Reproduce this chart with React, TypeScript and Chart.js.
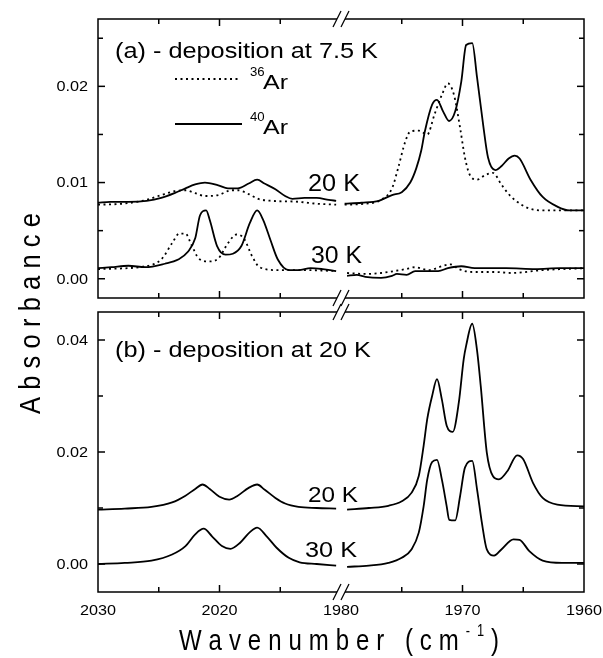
import React, { useEffect, useRef } from "react";
import { Chart, registerables } from "chart.js";

Chart.register(...registerables);

const FONT = '"Liberation Sans", Arial, Helvetica, sans-serif';

// ---------- Panel (a): deposition at 7.5 K ----------
// 20 K, 40Ar (solid)
const a20Ar40Wn = [2030, 2029, 2027.5, 2026, 2024.8, 2023.7, 2022.8, 2022, 2021.2, 2020.1, 2019.3, 2018.5, 2017.6, 2016.9, 2016.3, 2015.4, 2014.6, 2014, 2013, 2012, 2011, 2010.4,
  1979.7, 1978.3, 1976.9, 1975.8, 1975, 1974.3, 1973.8, 1973.4, 1973.1, 1972.5, 1972.1, 1971.6, 1971.1, 1970.6, 1970.1, 1969.7, 1969.2, 1968.8, 1968.3, 1967.9, 1967.3, 1966.8, 1966.2, 1965.7, 1965.3, 1964.4, 1963.4, 1962.2, 1961.2, 1960];
const a20Ar40Abs = [0.0079, 0.008, 0.008, 0.0081, 0.0084, 0.0089, 0.0094, 0.0098, 0.01, 0.0097, 0.0094, 0.0094, 0.0099, 0.0103, 0.0099, 0.0093, 0.0086, 0.0083, 0.0084, 0.0084, 0.0082, 0.0081,
  0.0078, 0.0079, 0.0081, 0.0087, 0.009, 0.01, 0.0115, 0.0133, 0.0153, 0.0181, 0.0186, 0.0174, 0.0164, 0.0174, 0.0205, 0.0243, 0.0245, 0.0209, 0.016, 0.0126, 0.0113, 0.0117, 0.0125, 0.0128, 0.0125, 0.0103, 0.0085, 0.0075, 0.0071, 0.0071];
// 20 K, 36Ar (dotted)
const a20Ar36Wn = [2030, 2028, 2026, 2024.8, 2023.7, 2022.8, 2022, 2021.2, 2020.1, 2019, 2018.5, 2017.6, 2016.8, 2015.7, 2013.5, 2012, 2010.4,
  1979.7, 1978, 1976.7, 1975.8, 1975.3, 1974.7, 1974.3, 1973.6, 1972.9, 1972.3, 1971.7, 1971.2, 1970.7, 1970.2, 1969.8, 1969.4, 1968.8, 1968.1, 1967.5, 1966.8, 1966.2, 1965.5, 1964.7, 1963.5, 1960];
const a20Ar36Abs = [0.0077, 0.0078, 0.0082, 0.0087, 0.0091, 0.0092, 0.0089, 0.0086, 0.0087, 0.0092, 0.0092, 0.0088, 0.0083, 0.0081, 0.008, 0.0078, 0.0077,
  0.0077, 0.0078, 0.0082, 0.0094, 0.0115, 0.0143, 0.0153, 0.0154, 0.015, 0.0171, 0.0191, 0.0203, 0.0191, 0.0157, 0.0126, 0.0108, 0.0103, 0.0108, 0.011, 0.0098, 0.0088, 0.008, 0.0074, 0.0071, 0.0071];
// 30 K, 40Ar (solid)
const a30Ar40Wn = [2030, 2028.9, 2027.5, 2026.1, 2024.5, 2023.4, 2022.6, 2022, 2021.6, 2021.1, 2020.8, 2020.2, 2019.5, 2018.9, 2018.2, 2017.5, 2016.9, 2016.4, 2015.8, 2015.2, 2014.3, 2013.5, 2012.5, 2011.5, 2010.4,
  1979.5, 1978.7, 1978, 1976.7, 1975.8, 1975.4, 1974.6, 1973.9, 1972, 1971.2, 1970.1, 1969, 1966.4, 1964, 1962, 1960];
const a30Ar40Abs = [0.0011, 0.0012, 0.00135, 0.0012, 0.00156, 0.002, 0.0028, 0.0042, 0.0066, 0.0071, 0.0061, 0.0034, 0.0025, 0.0026, 0.0034, 0.0058, 0.0071, 0.0061, 0.004, 0.002, 0.0009, 0.0009, 0.0011, 0.001, 0.0008,
  0.0003, 0.0004, 0.0002, 0.0001, 0.0003, 0.0005, 0.0004, 0.0008, 0.0008, 0.0011, 0.0013, 0.0011, 0.0011, 0.001, 0.0011, 0.0011];
// 30 K, 36Ar (dotted)
const a30Ar36Wn = [2030, 2026.1, 2024.8, 2023.9, 2023.3, 2022.8, 2022.3, 2021.7, 2020.9, 2020.1, 2019.3, 2018.6, 2018, 2017.3, 2016.7, 2015.2, 2013, 2010.4,
  1979.5, 1978, 1976.7, 1974.7, 1973.9, 1972.8, 1971.7, 1971, 1970.3, 1969.2, 1967.3, 1966, 1963.4, 1960];
const a30Ar36Abs = [0.001, 0.0013, 0.002, 0.0037, 0.0047, 0.0047, 0.0035, 0.0021, 0.0018, 0.0021, 0.0037, 0.0046, 0.0042, 0.0023, 0.0012, 0.0009, 0.0009, 0.0008,
  0.0006, 0.0005, 0.0006, 0.001, 0.0012, 0.0009, 0.0013, 0.0015, 0.001, 0.0007, 0.0007, 0.0006, 0.0009, 0.0011];

// ---------- Panel (b): deposition at 20 K ----------
const b20Wn = [2030, 2027.8, 2025.6, 2023.9, 2022.8, 2022, 2021.4, 2020.8, 2020, 2019.2, 2018.5, 2017.6, 2016.9, 2016.3, 2015.4, 2014.6, 2013.5, 2012, 2010.4,
  1979.5, 1977.7, 1976.1, 1975, 1974.2, 1973.6, 1973.2, 1972.9, 1972.5, 1972.1, 1971.7, 1971.3, 1970.8, 1970.3, 1969.9, 1969.7, 1969.2, 1968.8, 1968.5, 1968, 1967.5, 1967, 1966.3, 1965.5, 1965, 1964.2, 1963.4, 1962.2, 1960];
const b20Abs = [0.0097, 0.0099, 0.0102, 0.011, 0.0122, 0.0134, 0.0142, 0.0134, 0.012, 0.0115, 0.0122, 0.0136, 0.0142, 0.0133, 0.0118, 0.0108, 0.0102, 0.01, 0.0099,
  0.0097, 0.01, 0.0104, 0.0112, 0.0127, 0.0157, 0.0211, 0.0259, 0.03, 0.033, 0.0294, 0.0247, 0.0236, 0.0289, 0.0366, 0.039, 0.0429, 0.0381, 0.0318, 0.0199, 0.0157, 0.0151, 0.0166, 0.0194, 0.0187, 0.0145, 0.0118, 0.0106, 0.0103];
const b30Wn = [2030, 2027.8, 2025.6, 2023.9, 2022.8, 2022, 2021.3, 2020.6, 2019.8, 2019.1, 2018.3, 2017.5, 2016.9, 2016.1, 2015.3, 2014.3, 2013.4, 2012, 2010.4,
  1979.5, 1977.7, 1976.1, 1975, 1974.2, 1973.6, 1973.2, 1972.9, 1972.5, 1972.1, 1971.7, 1971.3, 1971.1, 1970.6, 1970.2, 1969.8, 1969.2, 1968.8, 1968.4, 1968, 1967.4, 1966.8, 1965.8, 1965.3, 1964.5, 1963.4, 1961.8, 1960];
const b30Abs = [0, 0.0002, 0.0006, 0.0017, 0.0032, 0.0053, 0.0063, 0.0049, 0.0032, 0.0027, 0.0038, 0.0057, 0.0065, 0.0049, 0.0029, 0.0011, 0.0003, 0, -0.0003,
  -0.0005, -0.0003, 0.0002, 0.0011, 0.0026, 0.0056, 0.0103, 0.0151, 0.0182, 0.0186, 0.0151, 0.0103, 0.0079, 0.0078, 0.0121, 0.0172, 0.0184, 0.0133, 0.0073, 0.0026, 0.0015, 0.0026, 0.0044, 0.0043, 0.0023, 0.0006, 0.0002, 0.0002];

// ---------- axes ----------
const xLabelTicks = [2030, 2020, 1980, 1970, 1960];
const xMajorInner = [2020, 1970];
const xMinorTicks = [2025, 2015, 1975, 1965];
const aYMajor = [0, 0.01, 0.02];
const aYMinor = [0.005, 0.015, 0.025];
const bYMajor = [0, 0.02, 0.04];
const bYMinor = [0.01, 0.03];
const aYRange = [-0.002, 0.027];
const bYRange = [-0.005, 0.045];

// broken axis: 2030..2010 | 1980..1960 (30 cm-1 removed)
const GAP = 30;
const BREAK_U = 1980;
const toU = (wn: number) => (wn > 1995 ? wn - GAP : wn);

function series(wn: number[], val: number[]) {
  const pts: { x: number; y: number | null }[] = [];
  let prevLeft: boolean | null = null;
  for (let i = 0; i < wn.length; i++) {
    const left = wn[i] > 1995;
    if (prevLeft === true && !left) pts.push({ x: BREAK_U, y: null });
    pts.push({ x: toU(wn[i]), y: val[i] });
    prevLeft = left;
  }
  return pts;
}

function drawScaled(ctx: CanvasRenderingContext2D, s: string, x: number, y: number, size: number, sx: number, align: "left" | "center" | "right", baseline: CanvasTextBaseline = "alphabetic") {
  ctx.save();
  ctx.font = `${size}px ${FONT}`;
  ctx.textBaseline = baseline;
  ctx.textAlign = "left";
  const w = ctx.measureText(s).width * sx;
  const x0 = align === "left" ? x : align === "center" ? x - w / 2 : x - w;
  ctx.translate(x0, y);
  ctx.scale(sx, 1);
  ctx.fillText(s, 0, 0);
  ctx.restore();
}

function drawFit(ctx: CanvasRenderingContext2D, s: string, x0: number, x1: number, baseline: number, size: number) {
  ctx.save();
  ctx.font = `${size}px ${FONT}`;
  ctx.textAlign = "left";
  ctx.textBaseline = "alphabetic";
  const w = ctx.measureText(s).width;
  ctx.translate(x0, baseline);
  ctx.scale((x1 - x0) / w, 1);
  ctx.fillText(s, 0, 0);
  ctx.restore();
}

type Part = { t: string; size: number; rise?: number };
function drawSpacedFit(ctx: CanvasRenderingContext2D, parts: Part[], x0: number, x1: number, baseline: number, sx: number) {
  ctx.save();
  ctx.textAlign = "left";
  ctx.textBaseline = "alphabetic";
  const glyphs: { ch: string; size: number; rise: number; w: number }[] = [];
  for (const p of parts) {
    ctx.font = `${p.size}px ${FONT}`;
    for (const ch of p.t) glyphs.push({ ch, size: p.size, rise: p.rise || 0, w: ctx.measureText(ch).width * sx });
  }
  const natural = glyphs.reduce((s, g) => s + g.w, 0);
  const sp = glyphs.length > 1 ? (x1 - x0 - natural) / (glyphs.length - 1) : 0;
  let x = x0;
  for (const g of glyphs) {
    ctx.font = `${g.size}px ${FONT}`;
    ctx.save();
    ctx.translate(x, baseline - g.rise);
    ctx.scale(sx, 1);
    ctx.fillText(g.ch, 0, 0);
    ctx.restore();
    x += g.w + sp;
  }
  ctx.restore();
}

function line(ctx: CanvasRenderingContext2D, x1: number, y1: number, x2: number, y2: number) {
  ctx.beginPath();
  ctx.moveTo(x1, y1);
  ctx.lineTo(x2, y2);
  ctx.stroke();
}

const MAJOR = 7;
const MINOR = 5;

function makePanelPlugin(panel: "a" | "b") {
  return {
    id: "panel-" + panel,
    afterDraw(chart: any) {
      const ctx: CanvasRenderingContext2D = chart.ctx;
      const { left, right, top, bottom } = chart.chartArea;
      const xs = chart.scales.x;
      const ys = chart.scales.y;
      ctx.save();
      ctx.strokeStyle = "#000";
      ctx.fillStyle = "#000";
      ctx.lineWidth = 1.5;
      ctx.setLineDash([]);
      ctx.strokeRect(left, top, right - left, bottom - top);

      // x ticks (inward, top and bottom)
      const xt = (wn: number, len: number) => {
        const x = xs.getPixelForValue(toU(wn));
        line(ctx, x, bottom, x, bottom - len);
        line(ctx, x, top, x, top + len);
      };
      xMajorInner.forEach((w) => xt(w, MAJOR));
      xMinorTicks.forEach((w) => xt(w, MINOR));

      // y ticks (inward, both sides)
      const major = panel === "a" ? aYMajor : bYMajor;
      const minor = panel === "a" ? aYMinor : bYMinor;
      const yt = (v: number, len: number) => {
        const y = ys.getPixelForValue(v);
        line(ctx, left, y, left + len, y);
        line(ctx, right, y, right - len, y);
      };
      major.forEach((v) => yt(v, MAJOR));
      minor.forEach((v) => yt(v, MINOR));

      // y tick labels
      major.forEach((v) => {
        drawScaled(ctx, v.toFixed(2), left - 10, ys.getPixelForValue(v) + 1, 14, 1.16, "right", "middle");
      });

      // break marks
      const bx = xs.getPixelForValue(BREAK_U);
      for (const y of [top, bottom]) {
        ctx.fillStyle = "#fff";
        ctx.fillRect(bx - 4, y - 1.5, 8, 3);
        ctx.fillStyle = "#000";
        ctx.lineWidth = 1.3;
        line(ctx, bx - 8, y + 8, bx, y - 8);
        line(ctx, bx, y + 8, bx + 8, y - 8);
      }
      ctx.lineWidth = 1.5;

      if (panel === "a") {
        drawFit(ctx, "(a) - deposition at 7.5 K", 115, 378, 58, 22);
        drawFit(ctx, "20 K", 308, 360, 191, 23);
        drawFit(ctx, "30 K", 311, 362, 263, 23);
        // legend
        ctx.lineWidth = 1.8;
        ctx.setLineDash([2, 3.5]);
        line(ctx, 175, 79, 240, 79);
        ctx.setLineDash([]);
        line(ctx, 175, 124, 242, 124);
        drawScaled(ctx, "36", 250, 76, 12, 1.1, "left");
        drawScaled(ctx, "Ar", 263, 89, 20, 1.25, "left");
        drawScaled(ctx, "40", 250, 121, 12, 1.1, "left");
        drawScaled(ctx, "Ar", 263, 134, 20, 1.25, "left");
        // y axis title (spans both panels)
        ctx.save();
        ctx.translate(40, 0);
        ctx.rotate(-Math.PI / 2);
        drawSpacedFit(ctx, [{ t: "Absorbance", size: 30 }], -414, -213, 0, 0.85);
        ctx.restore();
      } else {
        drawFit(ctx, "(b) - deposition at 20 K", 115, 371, 357, 22);
        drawFit(ctx, "20 K", 308, 358, 502, 22);
        drawFit(ctx, "30 K", 305, 357, 557, 22);
        // x tick labels
        xLabelTicks.forEach((wn) => {
          drawScaled(ctx, String(wn), xs.getPixelForValue(toU(wn)), 615, 15, 1.08, "center");
        });
        // x axis title
        drawSpacedFit(
          ctx,
          [
            { t: "Wavenumber (cm", size: 30 },
            { t: "-1", size: 16, rise: 14 },
            { t: ")", size: 30 },
          ],
          179,
          499,
          650,
          0.8
        );
      }
      ctx.restore();
    },
  };
}

function makeConfig(panel: "a" | "b") {
  const solid = { borderColor: "#000", borderWidth: 1.8, pointRadius: 0, fill: false, spanGaps: false, cubicInterpolationMode: "monotone" as const };
  const dotted = { ...solid, borderDash: [2, 3.5] };
  const datasets =
    panel === "a"
      ? [
          { label: "40Ar 20 K", data: series(a20Ar40Wn, a20Ar40Abs), ...solid },
          { label: "36Ar 20 K", data: series(a20Ar36Wn, a20Ar36Abs), ...dotted },
          { label: "40Ar 30 K", data: series(a30Ar40Wn, a30Ar40Abs), ...solid },
          { label: "36Ar 30 K", data: series(a30Ar36Wn, a30Ar36Abs), ...dotted },
        ]
      : [
          { label: "20 K", data: series(b20Wn, b20Abs), ...solid },
          { label: "30 K", data: series(b30Wn, b30Abs), ...solid },
        ];
  const range = panel === "a" ? aYRange : bYRange;
  const padding = panel === "a" ? { left: 98, right: 19, top: 19, bottom: 658 - 298 } : { left: 98, right: 19, top: 312, bottom: 658 - 592 };
  return {
    type: "line" as const,
    data: { datasets },
    options: {
      responsive: false,
      animation: false as const,
      devicePixelRatio: 1,
      events: [] as any[],
      layout: { padding },
      parsing: true,
      plugins: { legend: { display: false }, tooltip: { enabled: false }, title: { display: false } },
      scales: {
        x: { type: "linear" as const, min: 1960, max: 2000, reverse: true, display: false },
        y: { type: "linear" as const, min: range[0], max: range[1], display: false },
      },
    },
    plugins: [makePanelPlugin(panel)],
  };
}

export default function App() {
  const refA = useRef<HTMLCanvasElement | null>(null);
  const refB = useRef<HTMLCanvasElement | null>(null);

  useEffect(() => {
    document.body.style.margin = "0";
    document.body.style.background = "#fff";
    const ca = new Chart(refA.current as HTMLCanvasElement, makeConfig("a") as any);
    const cb = new Chart(refB.current as HTMLCanvasElement, makeConfig("b") as any);
    return () => {
      ca.destroy();
      cb.destroy();
    };
  }, []);

  const cs: React.CSSProperties = { position: "absolute", left: 0, top: 0, width: 603, height: 658 };
  return (
    <div style={{ position: "relative", width: 603, height: 658, background: "#fff", overflow: "hidden" }}>
      <canvas ref={refA} width={603} height={658} style={cs} />
      <canvas ref={refB} width={603} height={658} style={cs} />
    </div>
  );
}
